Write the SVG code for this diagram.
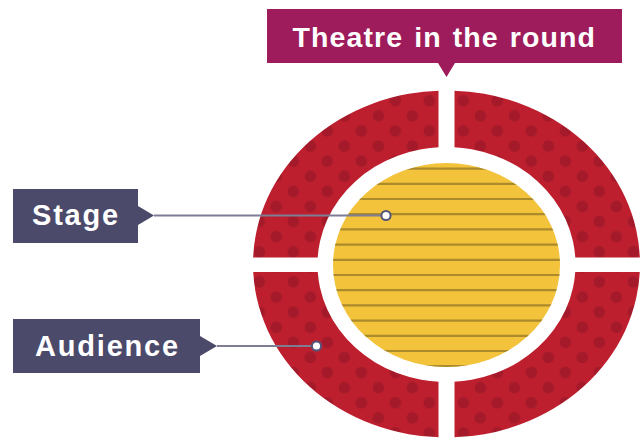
<svg xmlns="http://www.w3.org/2000/svg" width="644" height="438" viewBox="0 0 644 438">
  <style>
    .label { font-family: "Liberation Sans", Arial, sans-serif; font-weight: bold; fill: #ffffff; }
    .title { font-size: 28.5px; letter-spacing: 1.1px; word-spacing: 2px; }
    .tag { font-size: 29px; letter-spacing: 1.8px; }
    .conn { stroke: #7d7d93; stroke-width: 2; fill: none; }
    .pin { fill: #ffffff; stroke: #55557a; stroke-width: 2; }
    .stripe { stroke: #a3852c; stroke-width: 2.2; opacity: 0.9; }
  </style>
  <defs>
    <pattern id="dots" patternUnits="userSpaceOnUse" x="454.8" y="93.2" width="34" height="30.2">
      <rect width="34" height="30.2" fill="#bd1f2e"/>
      <circle cx="8.5" cy="7.5" r="5.8" fill="#a41a2a"/>
      <circle cx="25.5" cy="22.6" r="5.8" fill="#a41a2a"/>
    </pattern>
    <path id="annulus" fill-rule="evenodd" d="M253,264 a193.5,173.5 0 1,0 387,0 a193.5,173.5 0 1,0 -387,0 Z M317.5,264.5 a129,117.5 0 1,0 258,0 a129,117.5 0 1,0 -258,0 Z"/>
    <clipPath id="qTL"><rect x="0" y="0" width="438.5" height="257.5"/></clipPath>
    <clipPath id="qTR"><rect x="454.5" y="0" width="190" height="257.5"/></clipPath>
    <clipPath id="qBL"><rect x="0" y="272" width="438.5" height="166"/></clipPath>
    <clipPath id="qBR"><rect x="454.5" y="272" width="190" height="166"/></clipPath>
    <clipPath id="stageClip"><ellipse cx="446.5" cy="265" rx="113.5" ry="102"/></clipPath>
  </defs>

  <g id="audience-seating">
    <use href="#annulus" fill="url(#dots)" clip-path="url(#qTL)"/>
    <use href="#annulus" fill="url(#dots)" clip-path="url(#qTR)"/>
    <use href="#annulus" fill="url(#dots)" clip-path="url(#qBL)"/>
    <use href="#annulus" fill="url(#dots)" clip-path="url(#qBR)"/>
  </g>

  <g id="stage-area">
    <ellipse cx="446.5" cy="265" rx="113.5" ry="102" fill="#f3c33b"/>
    <g clip-path="url(#stageClip)">
      <line class="stripe" x1="330" y1="168.6" x2="565" y2="168.6"/>
      <line class="stripe" x1="330" y1="183.8" x2="565" y2="183.8"/>
      <line class="stripe" x1="330" y1="199" x2="565" y2="199"/>
      <line class="stripe" x1="330" y1="214.2" x2="565" y2="214.2"/>
      <line class="stripe" x1="330" y1="229.4" x2="565" y2="229.4"/>
      <line class="stripe" x1="330" y1="244.6" x2="565" y2="244.6"/>
      <line class="stripe" x1="330" y1="259.8" x2="565" y2="259.8"/>
      <line class="stripe" x1="330" y1="275" x2="565" y2="275"/>
      <line class="stripe" x1="330" y1="290.2" x2="565" y2="290.2"/>
      <line class="stripe" x1="330" y1="305.4" x2="565" y2="305.4"/>
      <line class="stripe" x1="330" y1="320.6" x2="565" y2="320.6"/>
      <line class="stripe" x1="330" y1="335.8" x2="565" y2="335.8"/>
      <line class="stripe" x1="330" y1="351" x2="565" y2="351"/>
      <line class="stripe" x1="330" y1="366.2" x2="565" y2="366.2"/>
    </g>
  </g>

  <g id="title">
    <path d="M267,9 H622 V63 H455 L446.5,77 L438,63 H267 Z" fill="#9e1c5b"/>
    <text class="label title" x="292.5" y="46.5">Theatre in the round</text>
  </g>

  <g id="stage-label">
    <path d="M13,189 H138 V206 L154,215.5 L138,225 V243 H13 Z" fill="#4b4a6b"/>
    <text class="label tag" x="32" y="225">Stage</text>
  </g>

  <g id="audience-label">
    <path d="M13,319 H200 V336 L217,346 L200,356 V373 H13 Z" fill="#4b4a6b"/>
    <text class="label tag" x="35" y="355.5">Audience</text>
  </g>

  <g id="connectors">
    <line class="conn" x1="154" y1="215.5" x2="381" y2="215.5"/>
    <circle class="pin" cx="386" cy="215.5" r="4.6"/>
    <line class="conn" x1="217" y1="346" x2="312" y2="346"/>
    <circle class="pin" cx="316.5" cy="346" r="4.6"/>
  </g>
</svg>
